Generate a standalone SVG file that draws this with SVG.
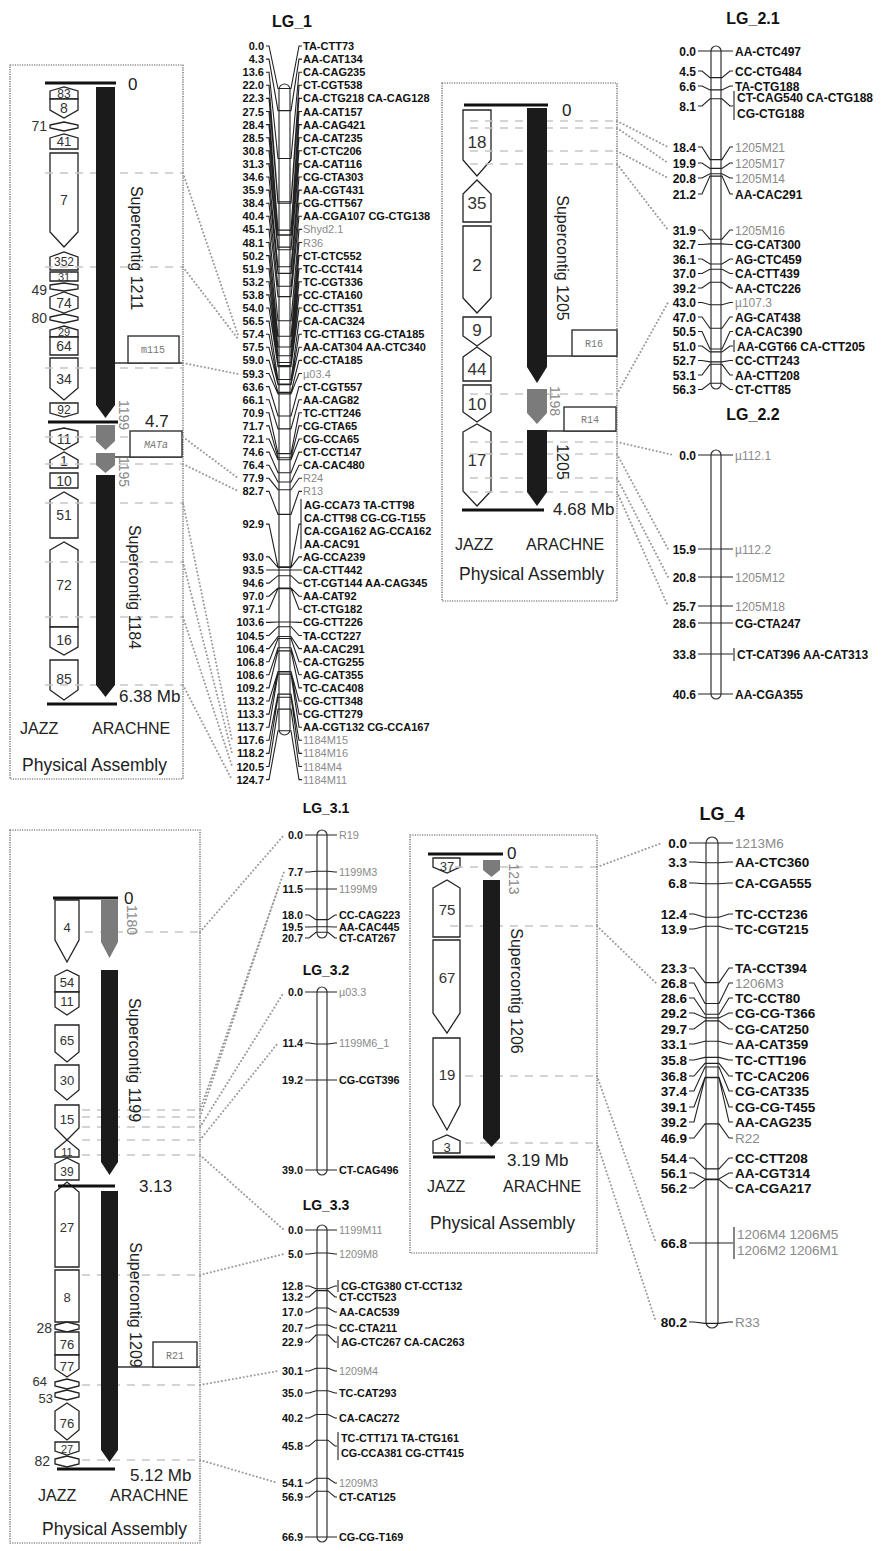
<svg xmlns="http://www.w3.org/2000/svg" width="889" height="1551" viewBox="0 0 889 1551">
<style>
text{font-family:"Liberation Sans",Arial,sans-serif}
.box{fill:none;stroke:#555;stroke-width:1.2;stroke-dasharray:1.2 1.2}
.jz{fill:#fff;stroke:#222;stroke-width:1.3}
.jt{fill:#333;text-anchor:middle}
.jo{fill:#333;text-anchor:end}
.ar{fill:#1b1b1b}
.ag{fill:#7b7b7b}
.hl{stroke:#111;stroke-width:3}
.dl{stroke:#c6c6c6;stroke-width:1.6;stroke-dasharray:8 7}
.dot{fill:none;stroke:#9b9b9b;stroke-width:2;stroke-dasharray:0.1 3.6;stroke-linecap:round}
.pl{font-size:16px;fill:#222}
.pa{font-size:17.5px;fill:#222}
.mb{font-size:17px;fill:#222}
.rt{font-size:16px;fill:#222;text-anchor:middle}
.rg{font-size:14px;fill:#888;text-anchor:middle}
.tb{fill:#fff;stroke:#333;stroke-width:1.4}
.tl{stroke:#333;stroke-width:1.4}
.tt{font-family:"Liberation Mono",monospace;font-size:10px;fill:#777;text-anchor:middle}
.chr{fill:#fff;stroke:#333;stroke-width:1.2}
.tk{fill:none;stroke:#222;stroke-width:1.1}
.ttl{font-weight:bold;fill:#111;text-anchor:middle}
.n{font-weight:bold;fill:#111;text-anchor:end}
.m{font-weight:bold;fill:#111}
.g{fill:#8a8a8a}
</style>
<rect width="889" height="1551" fill="#fff"/>

<!-- Physical assembly LG_1 -->
<g id="pa1">
<rect class="box" x="10" y="65" width="173" height="714"/>
<g font-size="14">
<polygon class="jz" points="50,91 64,87 78,91 78,99 50,99"/>
<polygon class="jz" points="50,99 78,99 78,110 64,118 50,110"/>
<polygon class="jz" points="50,125 64,122 78,125 78,128 64,131 50,128"/>
<polygon class="jz" points="50,138 64,134 78,138 78,149 50,149"/>
<polygon class="jz" points="50,153 78,153 78,232 64,247 50,232"/>
<polygon class="jz" points="50,257 64,252 78,257 78,270 50,270"/>
<polygon class="jz" points="50,272 78,272 78,281 50,281"/>
<polygon class="jz" points="50,285 64,283 78,285 78,289 64,291 50,289"/>
<polygon class="jz" points="50,297 64,292 78,297 78,308 64,313 50,308"/>
<polygon class="jz" points="50,317 64,314 78,317 78,320 64,323 50,320"/>
<polygon class="jz" points="50,330 64,326 78,330 78,337 50,337"/>
<polygon class="jz" points="50,337 78,337 78,355 50,355"/>
<polygon class="jz" points="50,358 78,358 78,388 64,400 50,388"/>
<polygon class="jz" points="50,403 78,403 78,413 64,417 50,413"/>
<polygon class="jz" points="50,431 64,428 78,431 78,442 64,450 50,442"/>
<polygon class="jz" points="50,460 64,452 78,460 78,468 50,468"/>
<polygon class="jz" points="50,473 78,473 78,488 50,488"/>
<polygon class="jz" points="50,500 64,492 78,500 78,538 50,538"/>
<polygon class="jz" points="50,550 64,542 78,550 78,627 50,627"/>
<polygon class="jz" points="50,627 78,627 78,647 64,655 50,647"/>
<polygon class="jz" points="50,660 78,660 78,690 64,700 50,690"/>
<text class="jt" x="64" y="98" font-size="12">83</text>
<text class="jt" x="64" y="113">8</text>
<text class="jt" x="64" y="146" font-size="13">41</text>
<text class="jt" x="64" y="205">7</text>
<text class="jt" x="64" y="266" font-size="12">352</text>
<text class="jt" x="64" y="281" font-size="11">31</text>
<text class="jt" x="64" y="308">74</text>
<text class="jt" x="64" y="336" font-size="11">29</text>
<text class="jt" x="64" y="351">64</text>
<text class="jt" x="64" y="384">34</text>
<text class="jt" x="64" y="414" font-size="12">92</text>
<text class="jt" x="64" y="444">11</text>
<text class="jt" x="64" y="466">1</text>
<text class="jt" x="64" y="486">10</text>
<text class="jt" x="64" y="520">51</text>
<text class="jt" x="64" y="590">72</text>
<text class="jt" x="64" y="645">16</text>
<text class="jt" x="64" y="684">85</text>
<text class="jo" x="47" y="131">71</text>
<text class="jo" x="47" y="295">49</text>
<text class="jo" x="47" y="323">80</text>
</g>
<g>
<line class="dl" x1="45" y1="173" x2="183" y2="173"/>
<line class="dl" x1="45" y1="267" x2="183" y2="267"/>
<line class="dl" x1="45" y1="368" x2="183" y2="368"/>
<line class="dl" x1="45" y1="437" x2="183" y2="437"/>
<line class="dl" x1="45" y1="464" x2="183" y2="464"/>
<line class="dl" x1="45" y1="503" x2="183" y2="503"/>
<line class="dl" x1="45" y1="562" x2="183" y2="562"/>
<line class="dl" x1="45" y1="617" x2="183" y2="617"/>
<line class="dl" x1="45" y1="685" x2="183" y2="685"/>
</g>
<polygon class="ar" points="96,87 115,87 115,405 105.5,418 96,405"/>
<polygon class="ag" points="96,425 115,425 115,441 105.5,450 96,441"/>
<polygon class="ag" points="96,453 115,453 115,465 105.5,473 96,465"/>
<polygon class="ar" points="96,475 115,475 115,685 105.5,697 96,685"/>
<line class="hl" x1="45" y1="83" x2="116" y2="83"/>
<line class="hl" x1="48" y1="422" x2="118" y2="422"/>
<line class="hl" x1="47" y1="704" x2="117" y2="704"/>
<text class="mb" x="128" y="90">0</text>
<text class="mb" x="145" y="427">4.7</text>
<text class="mb" x="119" y="702">6.38 Mb</text>
<text class="rt" transform="translate(137,248) rotate(90)" dy="0.35em">Supercontig 1211</text>
<text class="rt" transform="translate(135,587) rotate(90)" dy="0.35em">Supercontig 1184</text>
<text class="rg" transform="translate(124,415) rotate(90)" dy="0.35em">1199</text>
<text class="rg" transform="translate(124,472) rotate(90)" dy="0.35em">1195</text>
<line class="tl" x1="115" y1="363" x2="183" y2="363"/>
<rect class="tb" x="128" y="336" width="51" height="27"/>
<text class="tt" x="153" y="353">m115</text>
<line class="tl" x1="115" y1="457" x2="182" y2="457"/>
<rect class="tb" x="130" y="431" width="52" height="26"/>
<text class="tt" x="156" y="448" font-style="italic">MATa</text>
<text class="pl" x="20" y="734">JAZZ</text>
<text class="pl" x="92" y="734">ARACHNE</text>
<text class="pa" x="22" y="771">Physical Assembly</text>
</g>

<!-- LG_1 -->
<g id="LG_1" font-size="11">
<text class="ttl" x="292" y="27" font-size="16">LG_1</text>
<rect class="chr" x="279" y="84" width="11" height="651" rx="5.5"/>
<path class="tk" d="M266 46H269L278 88.5H291L299 46H302M266 59.1H269L278 110.6H291L299 59.1H302M266 72.2H269L278 158.5H291L299 72.2H302M266 85.3H269L278 201.8H291L299 85.3H302M266 98.4H269L278 203.3H291L299 98.4H302M266 111.5H269L278 230.1H291L299 111.5H302M266 124.6H269L278 234.8H291L299 124.6H302M266 137.7H269L278 235.3H291L299 137.7H302M266 150.8H269L278 247.1H291L299 150.8H302M266 163.9H269L278 249.7H291L299 163.9H302M266 177H269L278 266.7H291L299 177H302M266 190.1H269L278 273.4H291L299 190.1H302M266 203.2H269L278 286.3H291L299 203.2H302M266 216.3H269L278 296.6H291L299 216.3H302M266 229.4H269L278 320.8H291L299 229.4H302M266 242.5H269L278 336.2H291L299 242.5H302M266 255.6H269L278 347H291L299 255.6H302M266 268.7H269L278 355.8H291L299 268.7H302M266 281.8H269L278 362.5H291L299 281.8H302M266 294.9H269L278 365.6H291L299 294.9H302M266 308H269L278 366.6H291L299 308H302M266 321.1H269L278 379.5H291L299 321.1H302M266 334.2H269L278 384.1H291L299 334.2H302M266 347.3H269L278 384.6H291L299 347.3H302M266 360.4H269L278 392.4H291L299 360.4H302M266 373.5H269L278 393.9H291L299 373.5H302M266 386.6H269L278 416H291L299 386.6H302M266 399.7H269L278 428.9H291L299 399.7H302M266 412.8H269L278 453.6H291L299 412.8H302M266 425.9H269L278 457.8H291L299 425.9H302M266 439H269L278 459.8H291L299 439H302M266 452.1H269L278 472.7H291L299 452.1H302M266 465.2H269L278 482H291L299 465.2H302M266 478.3H269L278 489.7H291L299 478.3H302M266 491.4H269L278 514.4H291L299 491.4H302M266 524.1H269L278 566.9H291L299 524.1H301M301 499V549M266 556.9H269L278 567.5H291L299 556.9H302M266 570H269L278 570H291L299 570H302M266 583.1H269L278 575.7H291L299 583.1H302M266 596.2H269L278 588.1H291L299 596.2H302M266 609.3H269L278 588.6H291L299 609.3H302M266 622.4H269L278 622H291L299 622.4H302M266 635.5H269L278 626.7H291L299 635.5H302M266 648.6H269L278 636.5H291L299 648.6H302M266 661.7H269L278 638.5H291L299 661.7H302M266 674.8H269L278 647.8H291L299 674.8H302M266 687.9H269L278 650.9H291L299 687.9H302M266 701H269L278 671.5H291L299 701H302M266 714.1H269L278 672H291L299 714.1H302M266 727.2H269L278 674.1H291L299 727.2H302M266 740.3H269L278 694.1H291L299 740.3H302M266 753.4H269L278 697.2H291L299 753.4H302M266 766.5H269L278 709.1H291L299 766.5H302M266 779.6H269L278 730.7H291L299 779.6H302"/>
<text class="n" x="264" y="50">0.0</text><text class="m" x="303" y="50">TA-CTT73</text>
<text class="n" x="264" y="63.1">4.3</text><text class="m" x="303" y="63.1">AA-CAT134</text>
<text class="n" x="264" y="76.2">13.6</text><text class="m" x="303" y="76.2">CA-CAG235</text>
<text class="n" x="264" y="89.3">22.0</text><text class="m" x="303" y="89.3">CT-CGT538</text>
<text class="n" x="264" y="102.4">22.3</text><text class="m" x="303" y="102.4">CA-CTG218 CA-CAG128</text>
<text class="n" x="264" y="115.5">27.5</text><text class="m" x="303" y="115.5">AA-CAT157</text>
<text class="n" x="264" y="128.6">28.4</text><text class="m" x="303" y="128.6">AA-CAG421</text>
<text class="n" x="264" y="141.7">28.5</text><text class="m" x="303" y="141.7">CA-CAT235</text>
<text class="n" x="264" y="154.8">30.8</text><text class="m" x="303" y="154.8">CT-CTC206</text>
<text class="n" x="264" y="167.9">31.3</text><text class="m" x="303" y="167.9">CA-CAT116</text>
<text class="n" x="264" y="181">34.6</text><text class="m" x="303" y="181">CG-CTA303</text>
<text class="n" x="264" y="194.1">35.9</text><text class="m" x="303" y="194.1">AA-CGT431</text>
<text class="n" x="264" y="207.2">38.4</text><text class="m" x="303" y="207.2">CG-CTT567</text>
<text class="n" x="264" y="220.3">40.4</text><text class="m" x="303" y="220.3">AA-CGA107 CG-CTG138</text>
<text class="n" x="264" y="233.4">45.1</text><text class="g" x="303" y="233.4">Shyd2.1</text>
<text class="n" x="264" y="246.5">48.1</text><text class="g" x="303" y="246.5">R36</text>
<text class="n" x="264" y="259.6">50.2</text><text class="m" x="303" y="259.6">CT-CTC552</text>
<text class="n" x="264" y="272.7">51.9</text><text class="m" x="303" y="272.7">TC-CCT414</text>
<text class="n" x="264" y="285.8">53.2</text><text class="m" x="303" y="285.8">TC-CGT336</text>
<text class="n" x="264" y="298.9">53.8</text><text class="m" x="303" y="298.9">CC-CTA160</text>
<text class="n" x="264" y="312">54.0</text><text class="m" x="303" y="312">CC-CTT351</text>
<text class="n" x="264" y="325.1">56.5</text><text class="m" x="303" y="325.1">CA-CAC324</text>
<text class="n" x="264" y="338.2">57.4</text><text class="m" x="303" y="338.2">TC-CTT163 CG-CTA185</text>
<text class="n" x="264" y="351.3">57.5</text><text class="m" x="303" y="351.3">AA-CAT304 AA-CTC340</text>
<text class="n" x="264" y="364.4">59.0</text><text class="m" x="303" y="364.4">CC-CTA185</text>
<text class="n" x="264" y="377.5">59.3</text><text class="g" x="303" y="377.5">µ03.4</text>
<text class="n" x="264" y="390.6">63.6</text><text class="m" x="303" y="390.6">CT-CGT557</text>
<text class="n" x="264" y="403.7">66.1</text><text class="m" x="303" y="403.7">AA-CAG82</text>
<text class="n" x="264" y="416.8">70.9</text><text class="m" x="303" y="416.8">TC-CTT246</text>
<text class="n" x="264" y="429.9">71.7</text><text class="m" x="303" y="429.9">CG-CTA65</text>
<text class="n" x="264" y="443">72.1</text><text class="m" x="303" y="443">CG-CCA65</text>
<text class="n" x="264" y="456.1">74.6</text><text class="m" x="303" y="456.1">CT-CCT147</text>
<text class="n" x="264" y="469.2">76.4</text><text class="m" x="303" y="469.2">CA-CAC480</text>
<text class="n" x="264" y="482.3">77.9</text><text class="g" x="303" y="482.3">R24</text>
<text class="n" x="264" y="495.4">82.7</text><text class="g" x="303" y="495.4">R13</text>
<text class="n" x="264" y="528.1">92.9</text>
<text class="m" x="304" y="508.5">AG-CCA73 TA-CTT98</text>
<text class="m" x="304" y="521.6">CA-CTT98 CG-CG-T155</text>
<text class="m" x="304" y="534.7">CA-CGA162 AG-CCA162</text>
<text class="m" x="304" y="547.8">AA-CAC91</text>
<text class="n" x="264" y="560.9">93.0</text><text class="m" x="303" y="560.9">AG-CCA239</text>
<text class="n" x="264" y="574">93.5</text><text class="m" x="303" y="574">CA-CTT442</text>
<text class="n" x="264" y="587.1">94.6</text><text class="m" x="303" y="587.1">CT-CGT144 AA-CAG345</text>
<text class="n" x="264" y="600.2">97.0</text><text class="m" x="303" y="600.2">AA-CAT92</text>
<text class="n" x="264" y="613.3">97.1</text><text class="m" x="303" y="613.3">CT-CTG182</text>
<text class="n" x="264" y="626.4">103.6</text><text class="m" x="303" y="626.4">CG-CTT226</text>
<text class="n" x="264" y="639.5">104.5</text><text class="m" x="303" y="639.5">TA-CCT227</text>
<text class="n" x="264" y="652.6">106.4</text><text class="m" x="303" y="652.6">AA-CAC291</text>
<text class="n" x="264" y="665.7">106.8</text><text class="m" x="303" y="665.7">CA-CTG255</text>
<text class="n" x="264" y="678.8">108.6</text><text class="m" x="303" y="678.8">AG-CAT355</text>
<text class="n" x="264" y="691.9">109.2</text><text class="m" x="303" y="691.9">TC-CAC408</text>
<text class="n" x="264" y="705">113.2</text><text class="m" x="303" y="705">CG-CTT348</text>
<text class="n" x="264" y="718.1">113.3</text><text class="m" x="303" y="718.1">CG-CTT279</text>
<text class="n" x="264" y="731.2">113.7</text><text class="m" x="303" y="731.2">AA-CGT132 CG-CCA167</text>
<text class="n" x="264" y="744.3">117.6</text><text class="g" x="303" y="744.3">1184M15</text>
<text class="n" x="264" y="757.4">118.2</text><text class="g" x="303" y="757.4">1184M16</text>
<text class="n" x="264" y="770.5">120.5</text><text class="g" x="303" y="770.5">1184M4</text>
<text class="n" x="264" y="783.6">124.7</text><text class="g" x="303" y="783.6">1184M11</text>
</g>

<!-- Physical assembly LG_2 -->
<g id="pa2">
<rect class="box" x="442" y="83" width="175" height="518"/>
<g font-size="17">
<polygon class="jz" points="463,110 491,110 491,160 477,176 463,160"/>
<polygon class="jz" points="463,194 477,180 491,194 491,222 463,222"/>
<polygon class="jz" points="463,226 491,226 491,298 477,313 463,298"/>
<polygon class="jz" points="463,317 491,317 491,336 477,346 463,336"/>
<polygon class="jz" points="463,357 477,347 491,357 491,381 463,381"/>
<polygon class="jz" points="463,385 491,385 491,412 477,422 463,412"/>
<polygon class="jz" points="463,432 477,424 491,432 491,491 477,506 463,491"/>
<text class="jt" x="477" y="148">18</text>
<text class="jt" x="477" y="209">35</text>
<text class="jt" x="477" y="271">2</text>
<text class="jt" x="477" y="336">9</text>
<text class="jt" x="477" y="375">44</text>
<text class="jt" x="477" y="410">10</text>
<text class="jt" x="477" y="466">17</text>
</g>
<g>
<line class="dl" x1="470" y1="121" x2="617" y2="121"/>
<line class="dl" x1="470" y1="128" x2="617" y2="128"/>
<line class="dl" x1="470" y1="151" x2="617" y2="151"/>
<line class="dl" x1="470" y1="164" x2="617" y2="164"/>
<line class="dl" x1="470" y1="394" x2="617" y2="394"/>
<line class="dl" x1="470" y1="442" x2="617" y2="442"/>
<line class="dl" x1="470" y1="454" x2="617" y2="454"/>
<line class="dl" x1="470" y1="478" x2="617" y2="478"/>
<line class="dl" x1="470" y1="492" x2="617" y2="492"/>
</g>
<polygon class="ar" points="527,108 547,108 547,367 537,383 527,367"/>
<polygon class="ag" points="527,389 547,389 547,413 537,424 527,413"/>
<polygon class="ar" points="527,430 547,430 547,492 537,506 527,492"/>
<line class="hl" x1="464" y1="105" x2="548" y2="105"/>
<line class="hl" x1="462" y1="510" x2="544" y2="510"/>
<text class="mb" x="562" y="116">0</text>
<text class="mb" x="553" y="515">4.68 Mb</text>
<text class="rt" transform="translate(563,258) rotate(90)" dy="0.35em">Supercontig 1205</text>
<text class="rg" transform="translate(555,401) rotate(90)" dy="0.35em">1198</text>
<text class="rt" transform="translate(563,462) rotate(90)" dy="0.35em">1205</text>
<line class="tl" x1="547" y1="356" x2="617" y2="356"/>
<rect class="tb" x="572" y="330" width="45" height="26"/>
<text class="tt" x="594" y="347">R16</text>
<line class="tl" x1="547" y1="431" x2="616" y2="431"/>
<rect class="tb" x="564" y="407" width="52" height="24"/>
<text class="tt" x="590" y="423">R14</text>
<text class="pl" x="455" y="550">JAZZ</text>
<text class="pl" x="526" y="550">ARACHNE</text>
<text class="pa" x="459" y="580">Physical Assembly</text>
</g>

<!-- LG_2.1 -->
<g id="LG_2_1" font-size="12">
<text class="ttl" x="753" y="24" font-size="16">LG_2.1</text>
<rect class="chr" x="711" y="46" width="10" height="343" rx="5"/>
<path class="tk" d="M698 51H733M698 71H702L710 77.6H722L730 71H733M698 86H702L710 89.9H722L730 86H733M698 106H702L710 98.8H722L730 106H733M734 91V120M698 147H702L710 159.6H722L730 147H733M698 163H702L710 168.4H722L730 163H733M698 178H702L710 173.7H722L730 178H733M698 194H702L710 176.1H722L730 194H733M698 230H702L710 239.2H722L730 230H733M698 244.5H702L710 243.9H722L730 244.5H733M698 259H702L710 264H722L730 259H733M698 273.5H702L710 269.3H722L730 273.5H733M698 288H702L710 282.3H722L730 288H733M698 302.5H702L710 304.7H722L730 302.5H733M698 317H702L710 328.3H722L730 317H733M698 331.5H702L710 349H722L730 331.5H733M698 346H702L710 351.9H722L730 346H733M734 340V352M698 360.5H702L710 361.9H722L730 360.5H733M698 375H702L710 364.3H722L730 375H733M698 389.5H702L710 383.2H722L730 389.5H733"/>
<text class="n" x="696" y="55.5">0.0</text><text class="m" x="735" y="55.5">AA-CTC497</text>
<text class="n" x="696" y="75.5">4.5</text><text class="m" x="735" y="75.5">CC-CTG484</text>
<text class="n" x="696" y="90.5">6.6</text><text class="m" x="735" y="90.5">TA-CTG188</text>
<text class="n" x="696" y="110.5">8.1</text><text class="m" x="737" y="101.5">CT-CAG540 CA-CTG188</text><text class="m" x="737" y="117.5">CG-CTG188</text>
<text class="n" x="696" y="151.5">18.4</text><text class="g" x="735" y="151.5">1205M21</text>
<text class="n" x="696" y="167.5">19.9</text><text class="g" x="735" y="167.5">1205M17</text>
<text class="n" x="696" y="182.5">20.8</text><text class="g" x="735" y="182.5">1205M14</text>
<text class="n" x="696" y="198.5">21.2</text><text class="m" x="735" y="198.5">AA-CAC291</text>
<text class="n" x="696" y="234.5">31.9</text><text class="g" x="735" y="234.5">1205M16</text>
<text class="n" x="696" y="249">32.7</text><text class="m" x="735" y="249">CG-CAT300</text>
<text class="n" x="696" y="263.5">36.1</text><text class="m" x="735" y="263.5">AG-CTC459</text>
<text class="n" x="696" y="278">37.0</text><text class="m" x="735" y="278">CA-CTT439</text>
<text class="n" x="696" y="292.5">39.2</text><text class="m" x="735" y="292.5">AA-CTC226</text>
<text class="n" x="696" y="307">43.0</text><text class="g" x="735" y="307">µ107.3</text>
<text class="n" x="696" y="321.5">47.0</text><text class="m" x="735" y="321.5">AG-CAT438</text>
<text class="n" x="696" y="336">50.5</text><text class="m" x="735" y="336">CA-CAC390</text>
<text class="n" x="696" y="350.5">51.0</text><text class="m" x="737" y="350.5">AA-CGT66 CA-CTT205</text>
<text class="n" x="696" y="365">52.7</text><text class="m" x="735" y="365">CC-CTT243</text>
<text class="n" x="696" y="379.5">53.1</text><text class="m" x="735" y="379.5">AA-CTT208</text>
<text class="n" x="696" y="394">56.3</text><text class="m" x="735" y="394">CT-CTT85</text>
</g>

<!-- LG_2.2 -->
<g id="LG_2_2" font-size="12">
<text class="ttl" x="753" y="420" font-size="16">LG_2.2</text>
<rect class="chr" x="711" y="450" width="10" height="249" rx="5"/>
<path class="tk" d="M698 455H733M698 549H733M698 577H733M698 606H733M698 623H733M698 654H733M734 648V661M698 694H733"/>
<text class="n" x="696" y="459.5">0.0</text><text class="g" x="735" y="459.5">µ112.1</text>
<text class="n" x="696" y="553.5">15.9</text><text class="g" x="735" y="553.5">µ112.2</text>
<text class="n" x="696" y="581.5">20.8</text><text class="g" x="735" y="581.5">1205M12</text>
<text class="n" x="696" y="610.5">25.7</text><text class="g" x="735" y="610.5">1205M18</text>
<text class="n" x="696" y="627.5">28.6</text><text class="m" x="735" y="627.5">CG-CTA247</text>
<text class="n" x="696" y="658.5">33.8</text><text class="m" x="737" y="658.5">CT-CAT396 AA-CAT313</text>
<text class="n" x="696" y="698.5">40.6</text><text class="m" x="735" y="698.5">AA-CGA355</text>
</g>

<!-- Physical assembly LG_3 -->
<g id="pa3">
<rect class="box" x="10" y="830" width="190" height="713"/>
<g font-size="13">
<polygon class="jz" points="55,900 79,900 79,940 67,962 55,940"/>
<polygon class="jz" points="55,976 67,970 79,976 79,992 55,992"/>
<polygon class="jz" points="55,992 79,992 79,1007 67,1015 55,1007"/>
<polygon class="jz" points="55,1025 79,1025 79,1052 67,1062 55,1052"/>
<polygon class="jz" points="55,1065 79,1065 79,1090 67,1100 55,1090"/>
<polygon class="jz" points="55,1105 79,1105 79,1128 67,1140 55,1128"/>
<polygon class="jz" points="55,1150 67,1140 79,1150 79,1157 55,1157"/>
<polygon class="jz" points="55,1164 67,1158 79,1164 79,1180 55,1180"/>
<polygon class="jz" points="55,1192 67,1182 79,1192 79,1267 55,1267"/>
<polygon class="jz" points="55,1270 79,1270 79,1322 55,1322"/>
<polygon class="jz" points="55,1325 67,1322 79,1325 79,1329 67,1332 55,1329"/>
<polygon class="jz" points="55,1332 79,1332 79,1355 55,1355"/>
<polygon class="jz" points="55,1355 79,1355 79,1369 67,1377 55,1369"/>
<polygon class="jz" points="55,1382 67,1379 79,1382 79,1386 67,1389 55,1386"/>
<polygon class="jz" points="55,1393 67,1390 79,1393 79,1397 67,1400 55,1397"/>
<polygon class="jz" points="55,1411 67,1403 79,1411 79,1430 67,1440 55,1430"/>
<polygon class="jz" points="55,1442 79,1442 79,1451 67,1455 55,1451"/>
<polygon class="jz" points="55,1459 67,1456 79,1459 79,1464 67,1467 55,1464"/>
<text class="jt" x="67" y="932">4</text>
<text class="jt" x="67" y="987">54</text>
<text class="jt" x="67" y="1006">11</text>
<text class="jt" x="67" y="1045">65</text>
<text class="jt" x="67" y="1085">30</text>
<text class="jt" x="67" y="1124">15</text>
<text class="jt" x="67" y="1156" font-size="11">11</text>
<text class="jt" x="67" y="1176" font-size="12">39</text>
<text class="jt" x="67" y="1232">27</text>
<text class="jt" x="67" y="1302">8</text>
<text class="jt" x="67" y="1349">76</text>
<text class="jt" x="67" y="1371">77</text>
<text class="jt" x="67" y="1428">76</text>
<text class="jt" x="67" y="1453" font-size="11">27</text>
<text class="jo" x="52" y="1333" font-size="14">28</text>
<text class="jo" x="47" y="1386" font-size="13">64</text>
<text class="jo" x="53" y="1403" font-size="13">53</text>
<text class="jo" x="50" y="1466" font-size="14">82</text>
</g>
<g>
<line class="dl" x1="85" y1="932" x2="200" y2="932"/>
<line class="dl" x1="82" y1="1110" x2="200" y2="1110"/>
<line class="dl" x1="82" y1="1117" x2="200" y2="1117"/>
<line class="dl" x1="82" y1="1127" x2="200" y2="1127"/>
<line class="dl" x1="82" y1="1140" x2="200" y2="1140"/>
<line class="dl" x1="82" y1="1155" x2="200" y2="1155"/>
<line class="dl" x1="82" y1="1275" x2="200" y2="1275"/>
<line class="dl" x1="82" y1="1385" x2="200" y2="1385"/>
<line class="dl" x1="82" y1="1460" x2="200" y2="1460"/>
</g>
<polygon class="ag" points="101,900 118,900 118,942 109.5,958 101,942"/>
<polygon class="ar" points="101,970 118,970 118,1162 109.5,1175 101,1162"/>
<polygon class="ar" points="101,1191 118,1191 118,1450 109.5,1462 101,1450"/>
<line class="hl" x1="53" y1="898" x2="118" y2="898"/>
<line class="hl" x1="58" y1="1186" x2="115" y2="1186"/>
<line class="hl" x1="57" y1="1469" x2="115" y2="1469"/>
<text class="mb" x="124" y="904" font-size="15">0</text>
<text class="mb" x="139" y="1192">3.13</text>
<text class="mb" x="130" y="1481">5.12 Mb</text>
<text class="rg" transform="translate(132,920) rotate(90)" dy="0.35em">1180</text>
<text class="rt" transform="translate(135,1060) rotate(90)" dy="0.35em">Supercontig 1199</text>
<text class="rt" transform="translate(136,1305) rotate(90)" dy="0.35em">Supercontig 1209</text>
<line class="tl" x1="118" y1="1367" x2="200" y2="1367"/>
<rect class="tb" x="153" y="1342" width="44" height="25"/>
<text class="tt" x="175" y="1359">R21</text>
<text class="pl" x="38" y="1501">JAZZ</text>
<text class="pl" x="110" y="1501">ARACHNE</text>
<text class="pa" x="42" y="1535">Physical Assembly</text>
</g>

<!-- LG_3.1 -->
<g id="LG_3_1" font-size="10.8">
<text class="ttl" x="326" y="813" font-size="14">LG_3.1</text>
<rect class="chr" x="317" y="830" width="10" height="108" rx="5"/>
<path class="tk" d="M305 835H337M305 872H309L316 871.2H328L335 872H337M305 889H337M305 915H309L316 919.6H328L335 915H337M305 927H309L316 926.7H328L335 927H337M305 938H309L316 932.3H328L335 938H337"/>
<text class="n" x="303" y="839">0.0</text><text class="g" x="339" y="839">R19</text>
<text class="n" x="303" y="876">7.7</text><text class="g" x="339" y="876">1199M3</text>
<text class="n" x="303" y="893">11.5</text><text class="g" x="339" y="893">1199M9</text>
<text class="n" x="303" y="919">18.0</text><text class="m" x="339" y="919">CC-CAG223</text>
<text class="n" x="303" y="931">19.5</text><text class="m" x="339" y="931">AA-CAC445</text>
<text class="n" x="303" y="942">20.7</text><text class="m" x="339" y="942">CT-CAT267</text>
</g>

<!-- LG_3.2 -->
<g id="LG_3_2" font-size="10.8">
<text class="ttl" x="326" y="975" font-size="14">LG_3.2</text>
<rect class="chr" x="317" y="987" width="10" height="188" rx="5"/>
<path class="tk" d="M305 992H337M305 1043H309L316 1044H328L335 1043H337M305 1080H337M305 1170H337"/>
<text class="n" x="303" y="996">0.0</text><text class="g" x="339" y="996">µ03.3</text>
<text class="n" x="303" y="1047">11.4</text><text class="g" x="339" y="1047">1199M6_1</text>
<text class="n" x="303" y="1084">19.2</text><text class="m" x="339" y="1084">CG-CGT396</text>
<text class="n" x="303" y="1174">39.0</text><text class="m" x="339" y="1174">CT-CAG496</text>
</g>

<!-- LG_3.3 -->
<g id="LG_3_3" font-size="10.8">
<text class="ttl" x="326" y="1210" font-size="14">LG_3.3</text>
<rect class="chr" x="317" y="1225" width="10" height="317" rx="5"/>
<path class="tk" d="M305 1230H337M305 1254H309L316 1253H328L335 1254H337M305 1286H309L316 1288.8H328L335 1286H337M338 1280V1292M305 1297H309L316 1290.6H328L335 1297H337M305 1312H309L316 1308H328L335 1312H337M305 1328H309L316 1325H328L335 1328H337M305 1342H309L316 1335H328L335 1342H337M338 1336V1348M305 1371H309L316 1368.2H328L335 1371H337M305 1393H309L316 1390.7H328L335 1393H337M305 1418H309L316 1414.5H328L335 1418H337M305 1446H309L316 1440.2H328L335 1446H337M338 1432V1460M305 1483H309L316 1478.3H328L335 1483H337M305 1497H309L316 1491.2H328L335 1497H337M305 1537H337"/>
<text class="n" x="303" y="1234">0.0</text><text class="g" x="339" y="1234">1199M11</text>
<text class="n" x="303" y="1258">5.0</text><text class="g" x="339" y="1258">1209M8</text>
<text class="n" x="303" y="1290">12.8</text><text class="m" x="341" y="1290">CG-CTG380 CT-CCT132</text>
<text class="n" x="303" y="1301">13.2</text><text class="m" x="339" y="1301">CT-CCT523</text>
<text class="n" x="303" y="1316">17.0</text><text class="m" x="339" y="1316">AA-CAC539</text>
<text class="n" x="303" y="1332">20.7</text><text class="m" x="339" y="1332">CC-CTA211</text>
<text class="n" x="303" y="1346">22.9</text><text class="m" x="341" y="1346">AG-CTC267 CA-CAC263</text>
<text class="n" x="303" y="1375">30.1</text><text class="g" x="339" y="1375">1209M4</text>
<text class="n" x="303" y="1397">35.0</text><text class="m" x="339" y="1397">TC-CAT293</text>
<text class="n" x="303" y="1422">40.2</text><text class="m" x="339" y="1422">CA-CAC272</text>
<text class="n" x="303" y="1450">45.8</text><text class="m" x="341" y="1442">TC-CTT171 TA-CTG161</text><text class="m" x="341" y="1457">CG-CCA381 CG-CTT415</text>
<text class="n" x="303" y="1487">54.1</text><text class="g" x="339" y="1487">1209M3</text>
<text class="n" x="303" y="1501">56.9</text><text class="m" x="339" y="1501">CT-CAT125</text>
<text class="n" x="303" y="1541">66.9</text><text class="m" x="339" y="1541">CG-CG-T169</text>
</g>

<!-- Physical assembly LG_4 -->
<g id="pa4">
<rect class="box" x="410" y="835" width="187" height="418"/>
<g font-size="15">
<polygon class="jz" points="433,858 460,858 460,867 447,873 433,867"/>
<polygon class="jz" points="433,888 447,880 460,888 460,937 433,937"/>
<polygon class="jz" points="433,940 460,940 460,1013 447,1033 433,1013"/>
<polygon class="jz" points="433,1038 460,1038 460,1105 447,1130 433,1105"/>
<polygon class="jz" points="433,1141 447,1135 460,1141 460,1153 433,1153"/>
<text class="jt" x="447" y="871" font-size="13">37</text>
<text class="jt" x="447" y="915">75</text>
<text class="jt" x="447" y="983">67</text>
<text class="jt" x="447" y="1080">19</text>
<text class="jt" x="447" y="1152" font-size="13">3</text>
</g>
<g>
<line class="dl" x1="455" y1="867" x2="597" y2="867"/>
<line class="dl" x1="450" y1="926" x2="597" y2="926"/>
<line class="dl" x1="465" y1="1076" x2="597" y2="1076"/>
<line class="dl" x1="465" y1="1143" x2="597" y2="1143"/>
</g>
<polygon class="ag" points="483,860 500,860 500,870 491.5,877 483,870"/>
<polygon class="ar" points="483,880 500,880 500,1138 491.5,1147 483,1138"/>
<line class="hl" x1="428" y1="854" x2="503" y2="854"/>
<line class="hl" x1="433" y1="1157" x2="495" y2="1157"/>
<text class="mb" x="507" y="859">0</text>
<text class="mb" x="507" y="1166">3.19 Mb</text>
<text class="rg" transform="translate(514,879) rotate(90)" dy="0.35em" font-size="15">1213</text>
<text class="rt" transform="translate(517,991) rotate(90)" dy="0.35em">Supercontig 1206</text>
<text class="pl" x="427" y="1192">JAZZ</text>
<text class="pl" x="503" y="1192">ARACHNE</text>
<text class="pa" x="430" y="1229">Physical Assembly</text>
</g>

<!-- LG_4 -->
<g id="LG_4" font-size="13.5">
<text class="ttl" x="722" y="820" font-size="18">LG_4</text>
<rect class="chr" x="706" y="837" width="12" height="491" rx="6"/>
<path class="tk" d="M689 843H733M689 862H694L705 862.8H719L729 862H733M689 883H694L705 883.7H719L729 883H733M689 914H694L705 917.3H719L729 914H733M689 929H694L705 926.3H719L729 929H733M689 968H694L705 982.6H719L729 968H733M689 983H694L705 1003.5H719L729 983H733M689 998H694L705 1014.3H719L729 998H733M689 1013H694L705 1017.9H719L729 1013H733M689 1029H694L705 1020.9H719L729 1029H733M689 1044H694L705 1041.3H719L729 1044H733M689 1060H694L705 1057.4H719L729 1060H733M689 1076H694L705 1063.4H719L729 1076H733M689 1091H694L705 1067H719L729 1091H733M689 1107H694L705 1077.2H719L729 1107H733M689 1122H694L705 1077.8H719L729 1122H733M689 1138H694L705 1123.9H719L729 1138H733M689 1158H694L705 1168.9H719L729 1158H733M689 1173H694L705 1179H719L729 1173H733M689 1188H694L705 1179.6H719L729 1188H733M689 1243H733M734 1227V1259M689 1322H694L705 1323.4H719L729 1322H733"/>
<text class="n" x="687" y="848">0.0</text><text class="g" x="735" y="848">1213M6</text>
<text class="n" x="687" y="867">3.3</text><text class="m" x="735" y="867">AA-CTC360</text>
<text class="n" x="687" y="888">6.8</text><text class="m" x="735" y="888">CA-CGA555</text>
<text class="n" x="687" y="919">12.4</text><text class="m" x="735" y="919">TC-CCT236</text>
<text class="n" x="687" y="934">13.9</text><text class="m" x="735" y="934">TC-CGT215</text>
<text class="n" x="687" y="973">23.3</text><text class="m" x="735" y="973">TA-CCT394</text>
<text class="n" x="687" y="988">26.8</text><text class="g" x="735" y="988">1206M3</text>
<text class="n" x="687" y="1003">28.6</text><text class="m" x="735" y="1003">TC-CCT80</text>
<text class="n" x="687" y="1018">29.2</text><text class="m" x="735" y="1018">CG-CG-T366</text>
<text class="n" x="687" y="1034">29.7</text><text class="m" x="735" y="1034">CG-CAT250</text>
<text class="n" x="687" y="1049">33.1</text><text class="m" x="735" y="1049">AA-CAT359</text>
<text class="n" x="687" y="1065">35.8</text><text class="m" x="735" y="1065">TC-CTT196</text>
<text class="n" x="687" y="1081">36.8</text><text class="m" x="735" y="1081">TC-CAC206</text>
<text class="n" x="687" y="1096">37.4</text><text class="m" x="735" y="1096">CG-CAT335</text>
<text class="n" x="687" y="1112">39.1</text><text class="m" x="735" y="1112">CG-CG-T455</text>
<text class="n" x="687" y="1127">39.2</text><text class="m" x="735" y="1127">AA-CAG235</text>
<text class="n" x="687" y="1143">46.9</text><text class="g" x="735" y="1143">R22</text>
<text class="n" x="687" y="1163">54.4</text><text class="m" x="735" y="1163">CC-CTT208</text>
<text class="n" x="687" y="1178">56.1</text><text class="m" x="735" y="1178">AA-CGT314</text>
<text class="n" x="687" y="1193">56.2</text><text class="m" x="735" y="1193">CA-CGA217</text>
<text class="n" x="687" y="1248">66.8</text><text class="g" x="737" y="1239">1206M4 1206M5</text><text class="g" x="737" y="1255">1206M2 1206M1</text>
<text class="n" x="687" y="1327">80.2</text><text class="g" x="735" y="1327">R33</text>
</g>

<!-- connectors -->
<g id="connectors">
<path class="dot" d="M183 173L238 335M183 267L238 339M183 363L238 374M183 437L238 478M183 464L238 491M183 503L232 740M183 562L232 753M183 617L232 766M183 685L232 780"/>
<path class="dot" d="M617 121L668 147M617 128L668 163M617 151L668 178M617 164L668 230M617 394L668 302.5M617 442L673 455M617 454L668 549M617 478L668 577M617 492L668 606"/>
<path class="dot" d="M200 932L284 835M200 1110L284 872M200 1117L278 889M200 1127L284 992M200 1140L278 1043M200 1155L284 1230M200 1275L284 1254M200 1385L278 1371M200 1460L278 1483"/>
<path class="dot" d="M597 867L662 843M597 926L656 983M597 1076L656 1243M597 1143L656 1322"/>
</g>
</svg>
